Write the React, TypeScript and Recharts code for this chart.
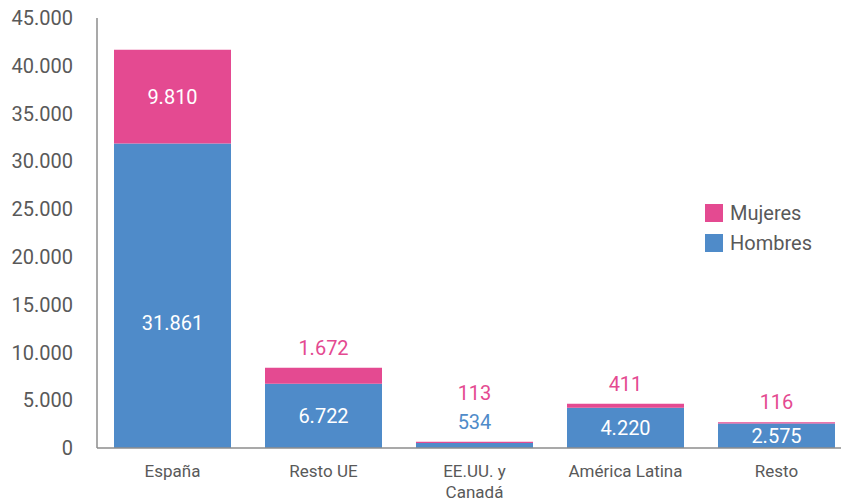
import { BarChart, Bar, XAxis, YAxis, LabelList } from 'recharts'

const categories = ['España', 'Resto UE', 'EE.UU. y\nCanadá', 'América Latina', 'Resto']
const hombres = [31861, 6722, 534, 4220, 2575]
const mujeres = [9810, 1672, 113, 411, 116]
const yTicks = [0, 5000, 10000, 15000, 20000, 25000, 30000, 35000, 40000, 45000]
const series = [
  { label: 'Mujeres', color: '#e44a91' },
  { label: 'Hombres', color: '#4f8bc9' },
]

const data = categories.map((name, i) => ({ name, hombres: hombres[i], mujeres: mujeres[i] }))

const BLUE = '#4f8bc9'
const PINK = '#e44a91'
const GREY = '#595959'
const FONT = 'Roboto, "DejaVu Sans", sans-serif'

const fmt = (v: number) => String(v).replace(/\B(?=(\d{3})+(?!\d))/g, '.')

const CategoryTick = (props: any) => {
  const { x, y, payload } = props
  const lines = String(payload.value).split('\n')
  return (
    <text x={x} y={y + 15} textAnchor="middle" fill={GREY} fontSize={17} fontFamily={FONT}>
      {lines.map((l, i) => (
        <tspan key={i} x={x} dy={i === 0 ? 0 : 21} dominantBaseline="central">
          {l}
        </tspan>
      ))}
    </text>
  )
}

const HombresLabel = (props: any) => {
  const { x, y, width, height, value } = props
  const inside = height >= 20
  const cy = inside ? y + height - Math.min(height / 2, 125) : y - 21
  return (
    <text x={x + width / 2} y={cy} textAnchor="middle" dominantBaseline="central"
      fill={inside ? '#fff' : BLUE} fontSize={20} fontFamily={FONT}>
      {fmt(value)}
    </text>
  )
}

const MujeresLabel = (props: any) => {
  const { x, y, width, height, value, index } = props
  const inside = height >= 20
  const blueOutside = hombres[index] < 2000
  const cy = inside ? y + height / 2 : y - (blueOutside ? 49 : 20)
  return (
    <text x={x + width / 2} y={cy} textAnchor="middle" dominantBaseline="central"
      fill={inside ? '#fff' : PINK} fontSize={20} fontFamily={FONT}>
      {fmt(value)}
    </text>
  )
}

export default function App() {
  return (
    <div style={{ position: 'absolute', left: 0, top: 0, width: 841, height: 502, overflow: 'hidden', background: '#fff' }}>
      <BarChart width={860} height={502} data={data} margin={{ top: 18, right: 8, left: 0, bottom: 0 }} barSize={117}>
        <XAxis dataKey="name" height={54} interval={0} tickLine={false} axisLine={{ stroke: '#8c8c8c', strokeWidth: 1.5 }} tick={<CategoryTick />} />
        <YAxis width={97} domain={[0, 45000]} ticks={yTicks} tickFormatter={fmt} tickLine={false}
          axisLine={{ stroke: '#8c8c8c', strokeWidth: 1.5 }} tickMargin={18}
          tick={{ fill: GREY, fontSize: 20, fontFamily: FONT }} />
        <Bar dataKey="hombres" stackId="a" fill={BLUE} isAnimationActive={false}>
          <LabelList dataKey="hombres" content={<HombresLabel />} />
        </Bar>
        <Bar dataKey="mujeres" stackId="a" fill={PINK} isAnimationActive={false}>
          <LabelList dataKey="mujeres" content={<MujeresLabel />} />
        </Bar>
      </BarChart>
      <div style={{ position: 'absolute', left: 705, top: 198, fontFamily: FONT, fontSize: 20, color: GREY }}>
        {series.map((item) => (
          <div key={item.label} style={{ display: 'flex', alignItems: 'center', height: 30 }}>
            <span style={{ width: 18, height: 18, background: item.color, marginRight: 7 }} />
            <span>{item.label}</span>
          </div>
        ))}
      </div>
    </div>
  )
}
